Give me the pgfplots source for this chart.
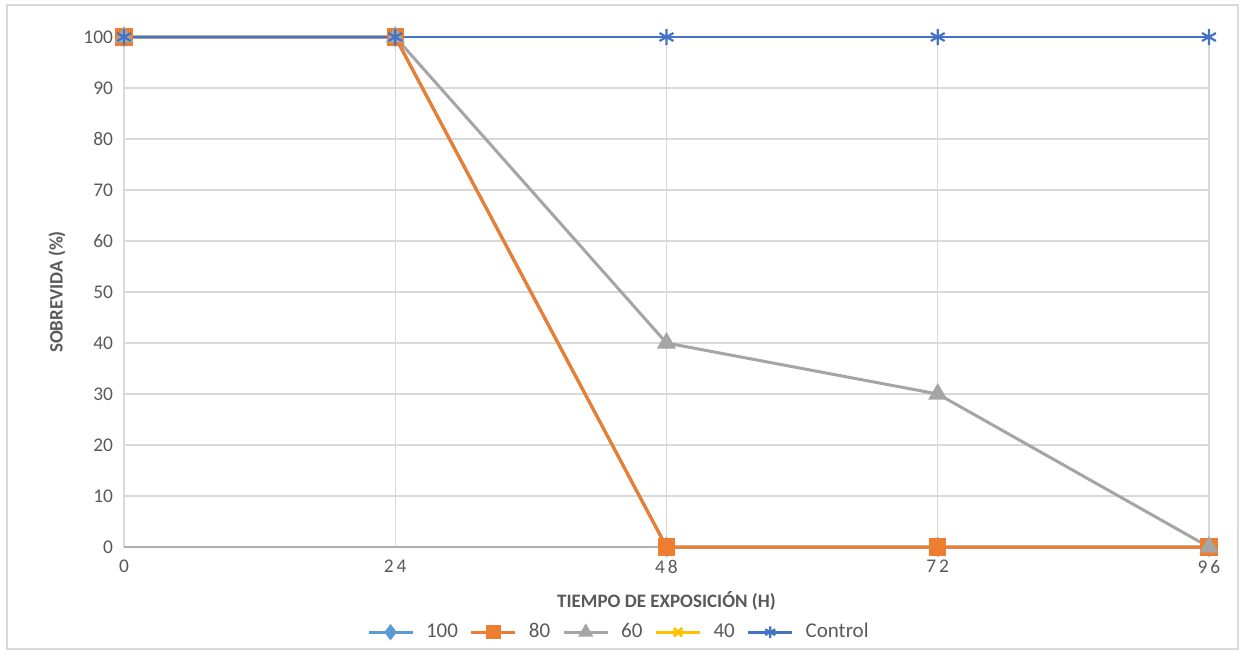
\documentclass[border=0pt]{standalone}
\usepackage{fontspec}
\setmainfont{Carlito}
\usepackage{pgfplots}
\pgfplotsset{compat=1.18}
\definecolor{c100}{HTML}{5B9BD5}
\definecolor{c80}{HTML}{ED7D31}
\definecolor{c60}{HTML}{A5A5A5}
\definecolor{c40}{HTML}{FFC000}
\definecolor{cctl}{HTML}{4472C4}
\definecolor{txt}{HTML}{595959}
\definecolor{grd}{HTML}{D9D9D9}
\begin{document}
\begin{tikzpicture}
\useasboundingbox (-62pt,-53.5pt) rectangle (559.5pt,273.5pt);
\draw[grd, line width=0.7pt] (-58.5pt,-51pt) rectangle (557pt,271pt);
\begin{axis}[
  at={(0,0)}, anchor=origin,
  scale only axis, width=542.5pt, height=255pt,
  xmin=0, xmax=96, ymin=0, ymax=100,
  xtick={0,24,48,72,96},
  xticklabels={0,2\kern1.5pt4,4\kern1.5pt8,7\kern1.5pt2,9\kern1.5pt6},
  ytick={0,10,...,100},
  grid=major, major grid style={grd, line width=0.6pt},
  axis x line*=bottom, axis y line*=left,
  x axis line style={draw=grd!80!black, line width=0.7pt, -},
  y axis line style={draw=none},
  tick style={draw=none},
  ticklabel style={font=\fontsize{9.7}{11}\selectfont, text=txt},
  /pgf/number format/assume math mode=true,
  xlabel={TIEMPO DE EXPOSICIÓN (H)},
  ylabel={SOBREVIDA (\%)},
  label style={font=\bfseries\fontsize{9.5}{11}\selectfont, text=txt},
  xlabel style={at={(axis description cs:0.5,0)}, anchor=center, yshift=-27pt},
  ylabel style={at={(axis description cs:0,0.5)}, anchor=center, xshift=0pt, yshift=33.5pt},
  xticklabel style={yshift=-3pt},
  yticklabel style={xshift=-2pt},
  clip=false,
  legend style={at={(0.457,-0.167)}, anchor=center, draw=none, fill=none,
    font=\fontsize{10.5}{12}\selectfont, text=txt, column sep=4pt},
  legend columns=-1,
  every legend image post/.style={mark size=2.9pt},
  legend image code/.code={
    \draw[#1, mark repeat=2, mark phase=2] plot coordinates {(0pt,0pt) (11pt,0pt) (22pt,0pt)};
  },
]
\addplot[color=c40, line width=1.5pt, mark=x, mark size=3.5pt, forget plot] coordinates {(0,100) (24,100) (48,0) (72,0) (96,0)};
\addplot[color=c100, line width=1.5pt, mark=diamond*, mark size=3.8pt] coordinates {(0,100) (24,100) (48,0) (72,0) (96,0)};
\addlegendentry{100}
\addplot[color=c80, line width=1.5pt, mark=square*, mark size=3.6pt] coordinates {(0,100) (24,100) (48,0) (72,0) (96,0)};
\addlegendentry{80}
\addplot[color=c60, line width=1.5pt, mark=triangle*, mark size=4pt] coordinates {(0,100) (24,100) (48,40) (72,30) (96,0)};
\addlegendentry{60}
\addlegendimage{color=c40, line width=1.5pt, mark=x, mark size=3.5pt}
\addlegendentry{40}
\addplot[color=cctl, line width=1.4pt, mark=asterisk, mark size=4pt, mark options={line width=1.1pt}] coordinates {(0,100) (24,100) (48,100) (72,100) (96,100)};
\addlegendentry{Control}
\end{axis}
\end{tikzpicture}
\end{document}
